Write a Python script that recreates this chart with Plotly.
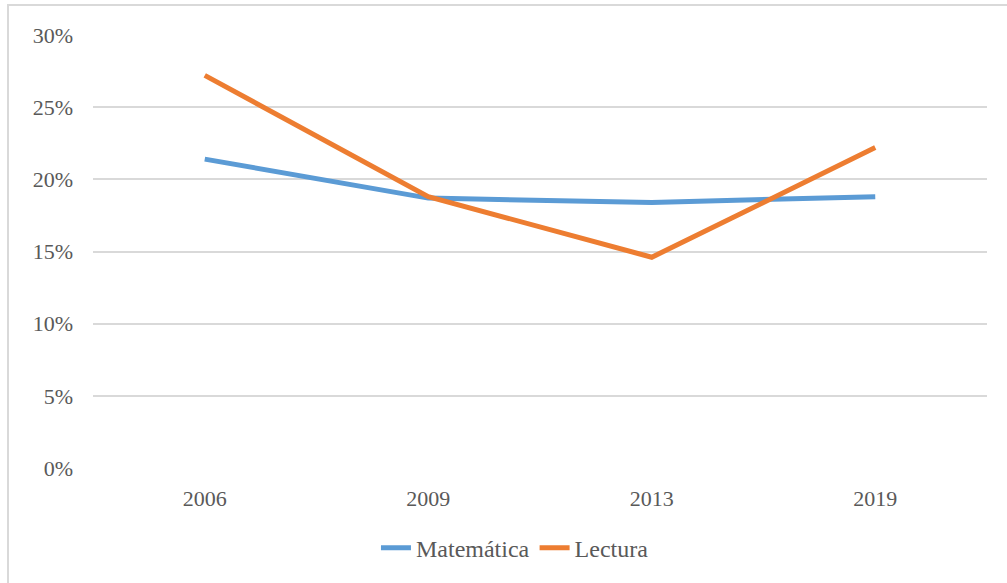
import plotly.graph_objects as go

years = ["2006", "2009", "2013", "2019"]
matematica = [0.214, 0.187, 0.184, 0.188]
lectura = [0.272, 0.188, 0.146, 0.222]

fig = go.Figure()
fig.add_trace(go.Scatter(x=years, y=matematica, name="Matemática", mode="lines",
                         line=dict(color="#5B9BD5", width=5)))
fig.add_trace(go.Scatter(x=years, y=lectura, name="Lectura", mode="lines",
                         line=dict(color="#ED7D31", width=5)))

font = dict(family="Liberation Serif, Times New Roman, serif", color="#595959", size=22)
fig.update_layout(
    width=1007, height=583,
    margin=dict(l=93, r=20, t=35, b=115),
    paper_bgcolor="white", plot_bgcolor="white",
    font=font,
    showlegend=True,
    legend=dict(orientation="h", x=0.472, xanchor="center", y=-0.185, yanchor="middle",
                font=dict(size=24, family=font["family"], color="#595959"),
                itemwidth=30, tracegroupgap=0),
    xaxis=dict(type="category", range=[-0.5, 3.5], showgrid=False, showline=False,
               zeroline=False, ticks="", tickfont=dict(size=22), ticklabelstandoff=15),
    yaxis=dict(range=[0, 0.30], dtick=0.05, tickformat=".0%", showgrid=True,
               gridcolor="#d9d9d9", gridwidth=1.5, zeroline=False, showline=False,
               ticks="", tickfont=dict(size=22), ticklabelstandoff=19),
)
fig.add_shape(type="rect", xref="paper", yref="paper",
              x0=(8 - 93) / 894, x1=(1012 - 93) / 894,
              y0=(468 - 600) / 433, y1=(468 - 5) / 433,
              line=dict(color="#d9d9d9", width=2), fillcolor="rgba(0,0,0,0)", layer="below")
fig.write_html("out.html", config={"displayModeBar": False},
               post_script="document.body.style.margin='0';document.body.style.padding='0';")
